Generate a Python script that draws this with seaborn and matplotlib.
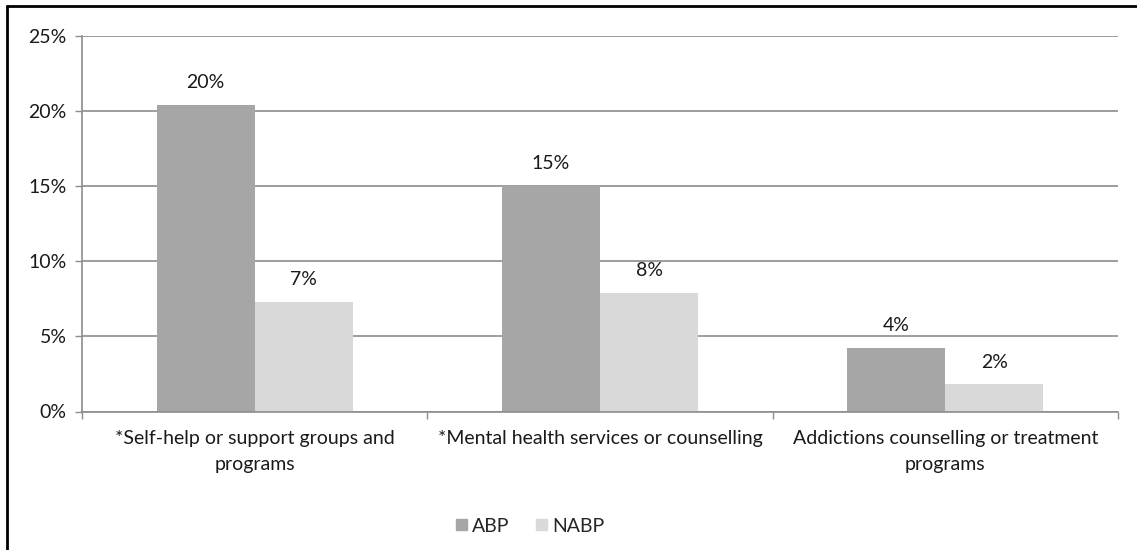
import matplotlib
matplotlib.use("Agg")
import matplotlib.pyplot as plt
from matplotlib.lines import Line2D
from matplotlib.ticker import FuncFormatter, FixedLocator
import seaborn as sns
import pandas as pd

categories = [
    "*Self-help or support groups and\nprograms",
    "*Mental health services or counselling",
    "Addictions counselling or treatment\nprograms",
]
abp_values = [20.4, 15.0, 4.25]
nabp_values = [7.3, 7.9, 1.8]
groups = ["ABP", "NABP"]
y_ticks = [0, 5, 10, 15, 20, 25]

df = pd.DataFrame({
    "category": categories * 2,
    "group": ["ABP"] * 3 + ["NABP"] * 3,
    "value": abp_values + nabp_values,
})

sns.set_theme(style="white")
plt.rcParams["font.family"] = ["Lato", "DejaVu Sans"]

FS = 14
TXT = "#1a1a1a"

fig = plt.figure(figsize=(11.37, 5.5), dpi=100)
ax = fig.add_axes([82 / 1137, 1 - 411.5 / 550, (1118 - 82) / 1137, (411.5 - 36) / 550])

palette = {"ABP": "#a6a6a6", "NABP": "#d9d9d9"}
sns.barplot(data=df, x="category", y="value", hue="group", order=categories,
            hue_order=groups, palette=palette, width=0.568, saturation=1,
            linewidth=0, ax=ax, legend=False)

# value labels above each bar
for container in ax.containers:
    for patch in container:
        h = patch.get_height()
        ax.annotate(f"{h:.0f}%", (patch.get_x() + patch.get_width() / 2, h),
                    xytext=(0, 10), textcoords="offset points",
                    ha="center", va="bottom", fontsize=FS, color=TXT)

ax.set_xlim(-0.5, 2.5)
ax.set_ylim(0, 25)
ax.set_yticks(y_ticks)
ax.yaxis.set_major_formatter(FuncFormatter(lambda v, _: f"{v:.0f}%"))
ax.yaxis.grid(True, color="#8c8c8c", linewidth=1.2)
ax.set_axisbelow(True)
ax.set_xlabel("")
ax.set_ylabel("")

ax.xaxis.set_minor_locator(FixedLocator([-0.5, 0.5, 1.5, 2.5]))
ax.tick_params(axis="x", which="major", length=0, pad=13, labelsize=FS,
               labelcolor=TXT)
ax.tick_params(axis="x", which="minor", length=5, width=1, color="#8c8c8c",
               direction="out", bottom=True)
ax.tick_params(axis="y", length=5, width=1, color="#8c8c8c", direction="out",
               left=True, labelsize=FS, labelcolor=TXT, pad=6)
for lbl in ax.get_xticklabels():
    lbl.set_linespacing(1.7)
    lbl.set_va("top")

for side in ["top", "right"]:
    ax.spines[side].set_visible(False)
for side in ["left", "bottom"]:
    ax.spines[side].set_color("#8c8c8c")
    ax.spines[side].set_linewidth(1.2)

handles = [plt.Rectangle((0, 0), 1, 1, color=palette[g]) for g in groups]
fig.legend(handles, groups, loc="center", ncol=2, frameon=False,
           bbox_to_anchor=(530 / 1137, 1 - 526 / 550), fontsize=FS,
           handlelength=0.55, handleheight=0.55, handletextpad=0.25,
           columnspacing=1.4)

# outer chart frame
fig.add_artist(Line2D([7 / 1137, 1], [1 - 6 / 550, 1 - 6 / 550],
                      transform=fig.transFigure, color="black", linewidth=2))
fig.add_artist(Line2D([7 / 1137, 7 / 1137], [0, 1 - 6 / 550],
                      transform=fig.transFigure, color="black", linewidth=2))

fig.savefig("out.png", dpi=100)
